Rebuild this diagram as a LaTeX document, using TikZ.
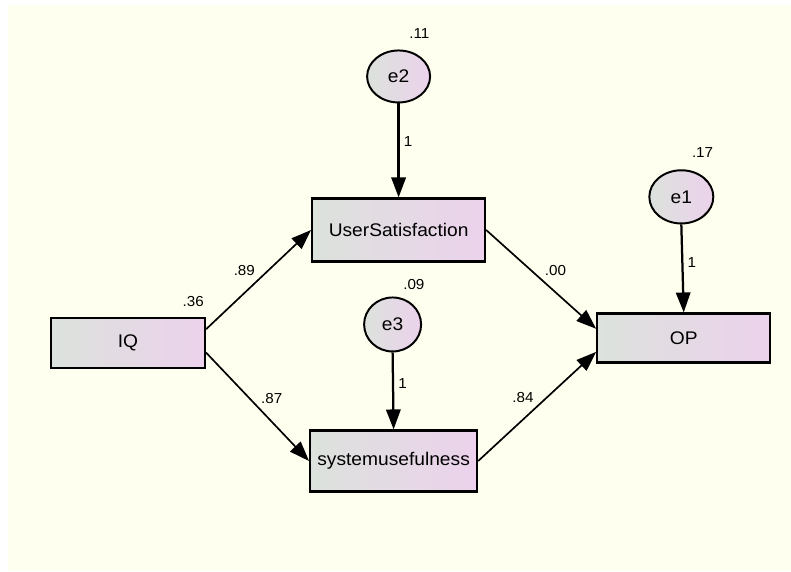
\documentclass[tikz,border=0pt]{standalone}
\usepackage{fontspec}
\setmainfont[FakeStretch=1.05]{Liberation Sans}
\usetikzlibrary{positioning,arrows.meta,shapes.geometric}

\definecolor{paper}{HTML}{FFFFEF}
\definecolor{shadeleft}{HTML}{DCE2DC}
\definecolor{shaderight}{HTML}{ECD2EC}

\begin{document}
\begin{tikzpicture}[>={Triangle[length=5mm,width=3.6mm]}, node distance=2cm, every node/.style={font=\fontsize{13}{15}\selectfont}]
  % observed variables, latent errors and the small estimates
  \tikzset{box/.style={draw, line width=1.5pt, left color=shadeleft, right color=shaderight, align=center},
    err/.style={ellipse, draw, line width=1.4pt, left color=shadeleft, right color=shaderight, inner sep=0pt},
    est/.style={font=\fontsize{10.3}{12}\selectfont, inner sep=0pt},
    reg/.style={->, line width=1.2pt},
    fixed/.style={->, line width=1.6pt}}

  % sheet behind the model (IQ sits at the origin)
  \fill[white] (-3.2,-5.7) rectangle (16.575,8.575);
  \fill[paper] (-3.0,-5.7) rectangle (16.575,8.45);

  % boxes
  \node[box, minimum width=3.85cm, minimum height=1.25cm] (iq) {IQ};
  \node[box, minimum width=4.325cm, minimum height=1.575cm, right=2.625cm of iq, yshift=2.825cm] (us) {UserSatisfaction};
  \node[box, minimum width=4.175cm, minimum height=1.525cm, right=2.575cm of iq, yshift=-2.95cm] (su) {systemusefulness};
  \node[box, minimum width=4.325cm, minimum height=1.225cm, right=2.75cm of us, yshift=-2.7cm] (op) {OP};

  % error terms
  \node[err, minimum width=1.575cm, minimum height=1.3cm, above=2.35cm of us] (e2) {e2};
  \node[err, minimum width=1.425cm, minimum height=1.35cm, above=1.925cm of su, xshift=-0.025cm] (e3) {e3};
  \node[err, minimum width=1.6cm, minimum height=1.33cm, above=2.2cm of op, xshift=-0.06cm] (e1) {e1};

  % variances
  \node[est, above right=0.94cm and 0.26cm of e2.center] (v2) {.11};
  \node[est, above right=0.87cm and 0.26cm of e3.center] (v3) {.09};
  \node[est, above right=0.97cm and 0.26cm of e1.center] (v1) {.17};
  \node[est, above left=0.24cm and 0.05cm of iq.north east] (viq) {.36};

  % regression paths
  \draw[reg] (iq.10) -- node[est, midway, above left, inner sep=2pt] (w1) {.89} (us.west);
  \draw[reg] (iq.-7) -- node[est, midway, above right, inner sep=2pt] (w2) {.87} (su.west);
  \draw[reg] (us.east) -- node[est, midway, above right, inner sep=2pt] (w3) {.00} (op.174);
  \draw[reg] (su.east) -- node[est, midway, above left, inner sep=2pt] (w4) {.84} (op.189);

  % error paths fixed to 1
  \draw[fixed] (e2.south) -- node[est, pos=0.4, right, inner sep=3pt] (f2) {1} (us.north);
  \draw[fixed] (e3.south) -- node[est, pos=0.4, right, inner sep=3pt] (f3) {1} (su.north);
  \draw[fixed] (e1.south) -- node[est, pos=0.43, right, inner sep=3pt] (f1) {1} (op.north);
\end{tikzpicture}
\end{document}
